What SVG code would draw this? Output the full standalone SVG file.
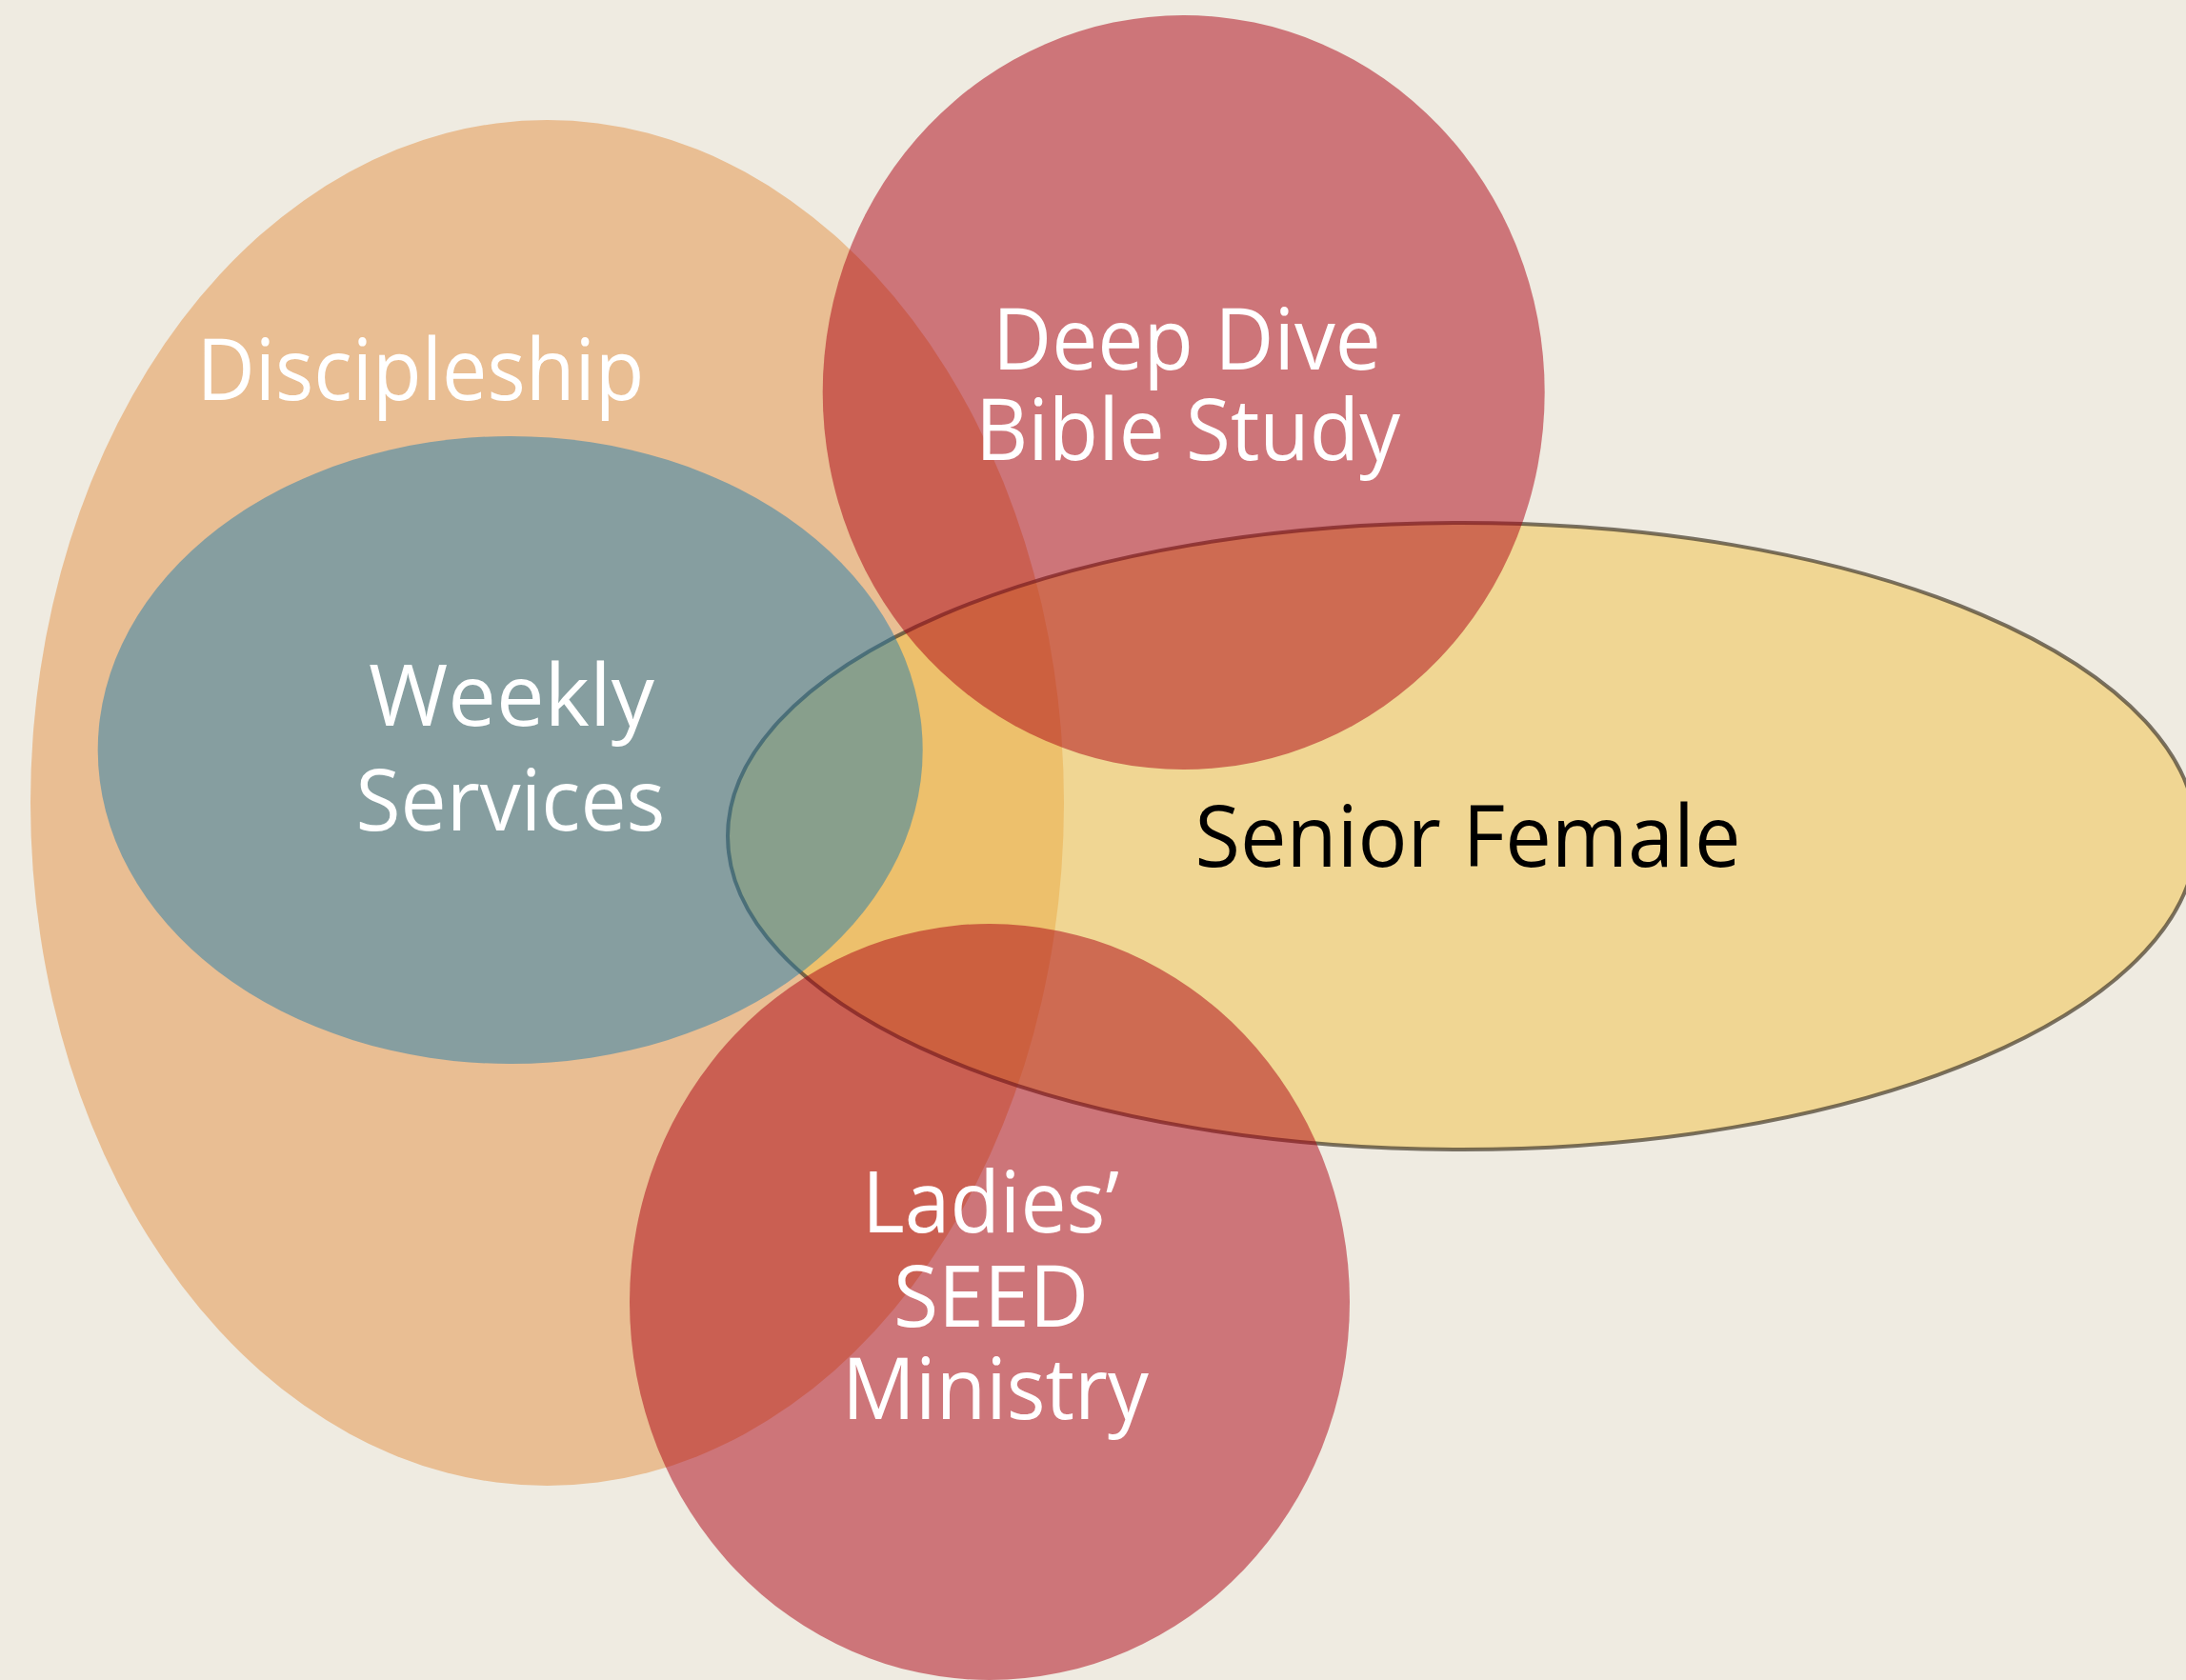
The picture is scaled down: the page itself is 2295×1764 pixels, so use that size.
<svg xmlns="http://www.w3.org/2000/svg" width="2295" height="1764" viewBox="0 0 2295 1764">
<style>
.lbl{font-family:"Open Sans","Noto Sans","DejaVu Sans",sans-serif;font-size:90px;text-anchor:middle}
.w{fill:#FFFFFF}
.k{fill:#000000}
.red{fill:#AB0011;fill-opacity:0.5}
</style>
<rect x="0" y="0" width="2295" height="1764" fill="#EFEBE1"/>
<g id="connectors"></g>
<g id="discipleship">
<ellipse cx="574.5" cy="843" rx="542.5" ry="717" fill="#E9BE93"/>
<text class="lbl w" x="441.5" y="420" textLength="470" lengthAdjust="spacingAndGlyphs">Discipleship</text>
</g>
<g id="senior-female">
<ellipse cx="1535" cy="878" rx="771" ry="329" fill="#F1C145" fill-opacity="0.5" stroke="#4A4030" stroke-opacity="0.72" stroke-width="4"/>
<text class="lbl k" x="1541" y="910" textLength="573" lengthAdjust="spacingAndGlyphs">Senior Female</text>
</g>
<g id="weekly-services">
<ellipse cx="535.7" cy="787.5" rx="433" ry="329.5" fill="rgb(31,124,174)" fill-opacity="0.49"/>
<text class="lbl w" x="537" y="762" textLength="300" lengthAdjust="spacingAndGlyphs">Weekly</text>
<text class="lbl w" x="536" y="872" textLength="325" lengthAdjust="spacingAndGlyphs">Services</text>
</g>
<g id="deep-dive-bible-study">
<ellipse class="red" cx="1242.7" cy="412" rx="379" ry="396"/>
<text class="lbl w" x="1246" y="388" textLength="408" lengthAdjust="spacingAndGlyphs">Deep Dive</text>
<text class="lbl w" x="1247" y="483" textLength="446" lengthAdjust="spacingAndGlyphs">Bible Study</text>
</g>
<g id="ladies-seed-ministry">
<ellipse class="red" cx="1039" cy="1367" rx="378" ry="397"/>
<text class="lbl w" x="1040" y="1294" textLength="270" lengthAdjust="spacingAndGlyphs">Ladies’</text>
<text class="lbl w" x="1040.5" y="1393" textLength="205" lengthAdjust="spacingAndGlyphs">SEED</text>
<text class="lbl w" x="1045" y="1490" textLength="322" lengthAdjust="spacingAndGlyphs">Ministry</text>
</g>
</svg>
